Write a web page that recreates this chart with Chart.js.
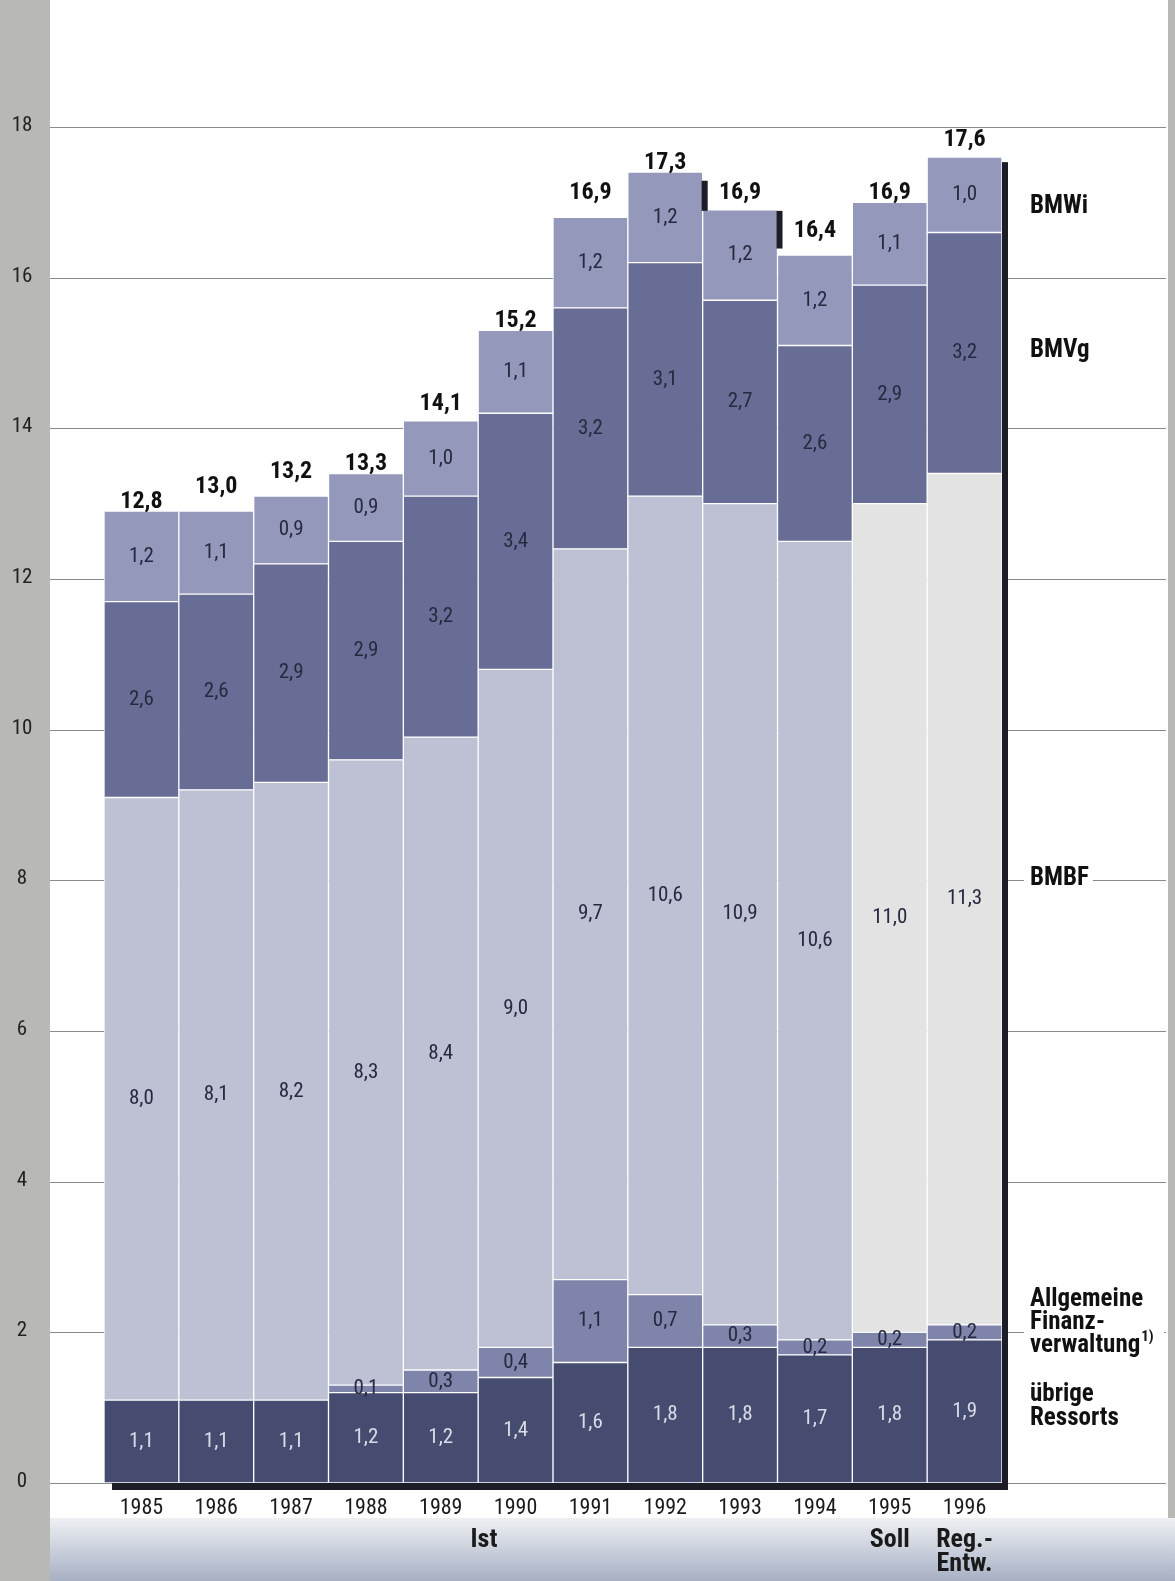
<!DOCTYPE html>
<html>
<head>
<meta charset="utf-8">
<script src="https://cdn.jsdelivr.net/npm/chart.js@4"></script>
<style>
  html, body { margin: 0; padding: 0; background: #fff; }
  #wrap { width: 1175px; height: 1581px; position: relative; }
</style>
</head>
<body>
<div id="wrap"><canvas id="chart"></canvas></div>
<script>
const years = ['1985', '1986', '1987', '1988', '1989', '1990', '1991', '1992', '1993', '1994', '1995', '1996']
const uebrige = [1.1, 1.1, 1.1, 1.2, 1.2, 1.4, 1.6, 1.8, 1.8, 1.7, 1.8, 1.9]
const finanz = [0, 0, 0, 0.1, 0.3, 0.4, 1.1, 0.7, 0.3, 0.2, 0.2, 0.2]
const bmbf = [8.0, 8.1, 8.2, 8.3, 8.4, 9.0, 9.7, 10.6, 10.9, 10.6, 11.0, 11.3]
const bmvg = [2.6, 2.6, 2.9, 2.9, 3.2, 3.4, 3.2, 3.1, 2.7, 2.6, 2.9, 3.2]
const bmwi = [1.2, 1.1, 0.9, 0.9, 1.0, 1.1, 1.2, 1.2, 1.2, 1.2, 1.1, 1.0]
const totals = [12.8, 13.0, 13.2, 13.3, 14.1, 15.2, 16.9, 17.3, 16.9, 16.4, 16.9, 17.6]
const yTicks = [0, 2, 4, 6, 8, 10, 12, 14, 16, 18]

const FONT = '"Liberation Sans Narrow", "Arial Narrow", "Roboto Condensed", Roboto, sans-serif'
const fmt = (v) => v.toFixed(1).replace('.', ',')

const canvas = document.getElementById('chart')
canvas.width = 1175
canvas.height = 1581

// light BMBF segment for the planned years
const bmbfColors = years.map((y) => (y === '1995' || y === '1996' ? '#e3e3e3' : '#bdc1d3'))

const backdrop = {
  id: 'backdrop',
  beforeDraw(chart) {
    const { ctx } = chart
    ctx.save()
    ctx.fillStyle = '#ffffff'
    ctx.fillRect(0, 0, 1175, 1581)
    const g = ctx.createLinearGradient(0, 1518, 0, 1581)
    g.addColorStop(0, '#eef0f3')
    g.addColorStop(1, '#a7b0c4')
    ctx.fillStyle = g
    ctx.fillRect(0, 1518, 1175, 63)
    ctx.fillStyle = '#b8b8b4'
    ctx.fillRect(0, 0, 50, 1581)
    ctx.fillRect(1168, 0, 7, 1518)
    ctx.restore()
  },
  beforeDatasetsDraw(chart) {
    const { ctx, scales } = chart
    const y = scales.y
    ctx.save()
    ctx.strokeStyle = '#8a8a8a'
    ctx.lineWidth = 1
    ctx.fillStyle = '#222'
    ctx.font = `21px ${FONT}`
    ctx.textAlign = 'center'
    ctx.textBaseline = 'middle'
    yTicks.forEach((t) => {
      const py = Math.round(y.getPixelForValue(t)) + 0.5
      ctx.beginPath()
      ctx.moveTo(50, py)
      ctx.lineTo(1166, py)
      ctx.stroke()
      ctx.fillText(String(t), 22, py - 2)
    })
    ctx.restore()
  },
  afterDatasetsDraw(chart) {
    const { ctx, scales } = chart
    const x = scales.x
    const y = scales.y
    const half = (x.getPixelForValue(1) - x.getPixelForValue(0)) / 2
    const base = y.getPixelForValue(0)
    ctx.save()
    ctx.fillStyle = '#1c1d26'
    // shadow under the bars
    ctx.fillRect(x.getPixelForValue(0) - half + 8, base, x.getPixelForValue(years.length - 1) + half - x.getPixelForValue(0) + half - 2, 7)
    // shadow where a bar steps down to the next one
    years.forEach((yr, i) => {
      const top = y.getPixelForValue(totals[i])
      const right = x.getPixelForValue(i) + half
      if (i === years.length - 1) {
        ctx.fillRect(right, top + 5, 6, base - top + 2)
      } else if (totals[i + 1] < totals[i]) {
        ctx.fillRect(right - 1, top + 1, 6, y.getPixelForValue(totals[i + 1]) - top)
      }
    })

    // totals on top
    ctx.fillStyle = '#111'
    ctx.font = `bold 24px ${FONT}`
    ctx.textAlign = 'center'
    ctx.textBaseline = 'alphabetic'
    totals.forEach((t, i) => {
      ctx.fillText(fmt(t), x.getPixelForValue(i), y.getPixelForValue(t) - 11)
    })

    // segment values
    ctx.font = `21px ${FONT}`
    ctx.textBaseline = 'middle'
    chart.data.datasets.forEach((ds, di) => {
      const meta = chart.getDatasetMeta(di)
      meta.data.forEach((bar, i) => {
        const v = ds.data[i]
        if (!v) return
        ctx.fillStyle = di === 0 ? '#d9dce8' : '#262a40'
        ctx.fillText(fmt(v), bar.x, (bar.y + bar.base) / 2)
      })
    })

    // year labels
    ctx.fillStyle = '#1a1a1a'
    ctx.font = `22px ${FONT}`
    years.forEach((yr, i) => ctx.fillText(yr, x.getPixelForValue(i), 1508))

    ctx.font = `bold 26px ${FONT}`
    ctx.fillText('Ist', 484, 1540)
    ctx.fillText('Soll', x.getPixelForValue(10), 1540)
    ctx.fillText('Reg.-', x.getPixelForValue(11), 1540)
    ctx.fillText('Entw.', x.getPixelForValue(11), 1564)

    // right-hand series names
    ctx.textAlign = 'left'
    ctx.fillStyle = '#ffffff'
    ctx.fillRect(1024, 1286, 140, 74)
    ctx.fillRect(1024, 1382, 140, 52)
    ctx.font = `bold 25px ${FONT}`
    const names = [
      ['BMWi', 207],
      ['BMVg', 351],
      ['BMBF', 879],
      ['Allgemeine', 1300],
      ['Finanz-', 1323],
      ['verwaltung', 1346],
      ['übrige', 1395],
      ['Ressorts', 1419],
    ]
    names.forEach(([ln, py]) => {
      const w = ctx.measureText(ln).width
      ctx.fillStyle = '#ffffff'
      ctx.fillRect(1024, py - 12, w + 10, 24)
      ctx.fillStyle = '#111'
      ctx.fillText(ln, 1030, py)
      if (ln === 'verwaltung') {
        ctx.font = `bold 15px ${FONT}`
        ctx.fillText('1)', 1030 + w + 1, py - 9)
        ctx.font = `bold 25px ${FONT}`
      }
    })
    ctx.restore()
  },
}

const seg = (label, data, color) => ({
  label,
  data,
  backgroundColor: color,
  borderColor: 'rgba(255,255,255,0.85)',
  borderWidth: 1,
  borderSkipped: false,
  barPercentage: 1,
  categoryPercentage: 1,
})

new Chart(canvas, {
  type: 'bar',
  data: {
    labels: years,
    datasets: [
      seg('übrige Ressorts', uebrige, '#464c70'),
      seg('Allgemeine Finanzverwaltung', finanz, '#7f85aa'),
      seg('BMBF', bmbf, bmbfColors),
      seg('BMVg', bmvg, '#676d95'),
      seg('BMWi', bmwi, '#9499bb'),
    ],
  },
  options: {
    responsive: false,
    animation: false,
    layout: { padding: { left: 104, right: 173, top: 127, bottom: 98 } },
    plugins: { legend: { display: false }, tooltip: { enabled: false } },
    scales: {
      x: { stacked: true, display: false },
      y: { stacked: true, display: false, min: 0, max: 18 },
    },
  },
  plugins: [backdrop],
})
</script>
</body>
</html>
